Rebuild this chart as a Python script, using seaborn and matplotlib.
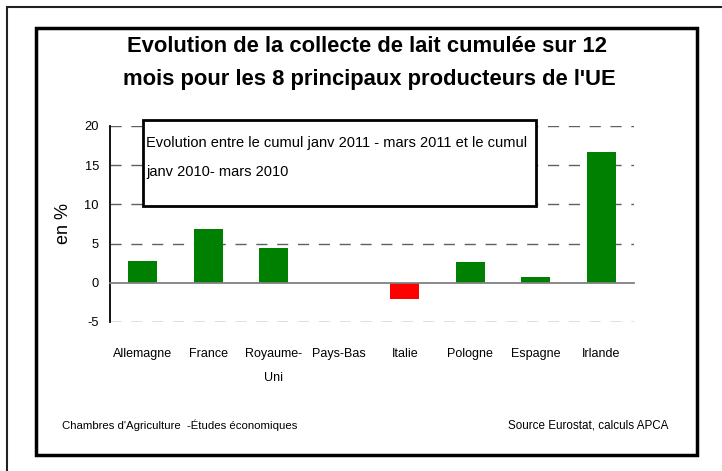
import matplotlib
matplotlib.use('Agg')
import matplotlib.pyplot as plt
import seaborn as sns
from matplotlib.patches import Rectangle

# data
countries = ['Allemagne', 'France', 'Royaume-\nUni', 'Pays-Bas', 'Italie',
             'Pologne', 'Espagne', 'Irlande']
evolution = [2.8, 6.9, 4.4, 0.0, -2.1, 2.6, 0.8, 16.7]
bar_colors = ['#008000', '#008000', '#008000', '#008000', '#FF0000',
              '#008000', '#008000', '#008000']
y_ticks = [-5, 0, 5, 10, 15, 20]

W, H = 722, 471

sns.set_style('white')
plt.rcParams['font.family'] = ['Liberation Sans', 'DejaVu Sans']
plt.rcParams['text.color'] = 'black'
plt.rcParams['axes.labelcolor'] = 'black'
plt.rcParams['xtick.color'] = 'black'
plt.rcParams['ytick.color'] = 'black'


def fx(x):
    return x / W


def fy(y):
    return 1 - y / H


fig = plt.figure(figsize=(W / 100, H / 100), dpi=100)

# frames
fig.add_artist(Rectangle((fx(7), fy(475)), fx(730 - 7), fy(7) - fy(475),
                         transform=fig.transFigure, fill=False,
                         edgecolor='#222222', linewidth=1.5))
fig.add_artist(Rectangle((fx(36), fy(455)), fx(697 - 36), fy(28) - fy(455),
                         transform=fig.transFigure, fill=False,
                         edgecolor='black', linewidth=2.5))

ax = fig.add_axes([fx(110), fy(322), fx(634 - 110), fy(126) - fy(322)])

sns.barplot(x=list(range(len(countries))), y=evolution, hue=list(range(len(countries))),
            palette=bar_colors, legend=False, width=0.44, ax=ax,
            saturation=1, edgecolor='none')

ax.set_xlim(-0.5, len(countries) - 0.5)
ax.set_ylim(-5, 20)
ax.set_yticks(y_ticks)
ax.set_yticklabels([str(v) for v in y_ticks], fontsize=9.3)

# dashed grid, skipping the zero line
for v in y_ticks:
    if v != 0:
        ax.axhline(v, color='#606060', linewidth=1, linestyle=(0, (8, 7)), zorder=0)

ax.spines['top'].set_visible(False)
ax.spines['right'].set_visible(False)
ax.spines['left'].set_color('black')
ax.spines['left'].set_linewidth(1.3)
ax.spines['bottom'].set_position(('data', 0))
ax.spines['bottom'].set_color('#808080')
ax.spines['bottom'].set_linewidth(1.3)

ax.tick_params(axis='y', direction='out', length=5, width=1, color='black', pad=3)
ax.set_xticks(range(len(countries)))
ax.set_xticklabels(countries, fontsize=9)
ax.set_xticks([i - 0.5 for i in range(len(countries) + 1)], minor=True)
ax.tick_params(axis='x', which='major', length=0, pad=47)
ax.tick_params(axis='x', which='minor', direction='out', length=5, width=1,
               color='black')
for lab in ax.get_xticklabels():
    lab.set_linespacing(2.3)

ax.set_ylabel('en %', fontsize=13, labelpad=9)

# text box
fig.add_artist(Rectangle((fx(143), fy(206)), fx(536 - 143), fy(120) - fy(206),
                         transform=fig.transFigure, facecolor='white',
                         edgecolor='black', linewidth=2, zorder=5))
fig.text(fx(146), fy(143), 'Evolution entre le cumul janv 2011 - mars 2011 et le cumul',
         fontsize=10.5, va='center', ha='left', zorder=6)
fig.text(fx(146), fy(172), 'janv 2010- mars 2010',
         fontsize=10.5, va='center', ha='left', zorder=6)

# title
fig.text(fx(367), fy(47), 'Evolution de la collecte de lait cumulée sur 12',
         fontsize=15.8, fontweight='bold', ha='center', va='center')
fig.text(fx(369), fy(80), "mois pour les 8 principaux producteurs de l'UE",
         fontsize=15.8, fontweight='bold', ha='center', va='center')

# footers
fig.text(fx(62), fy(425), "Chambres d'Agriculture  -Études économiques",
         fontsize=8.2, ha='left', va='center')
fig.text(fx(668), fy(425), 'Source Eurostat, calculs APCA',
         fontsize=8.4, ha='right', va='center')

fig.savefig('out.png', dpi=100)
